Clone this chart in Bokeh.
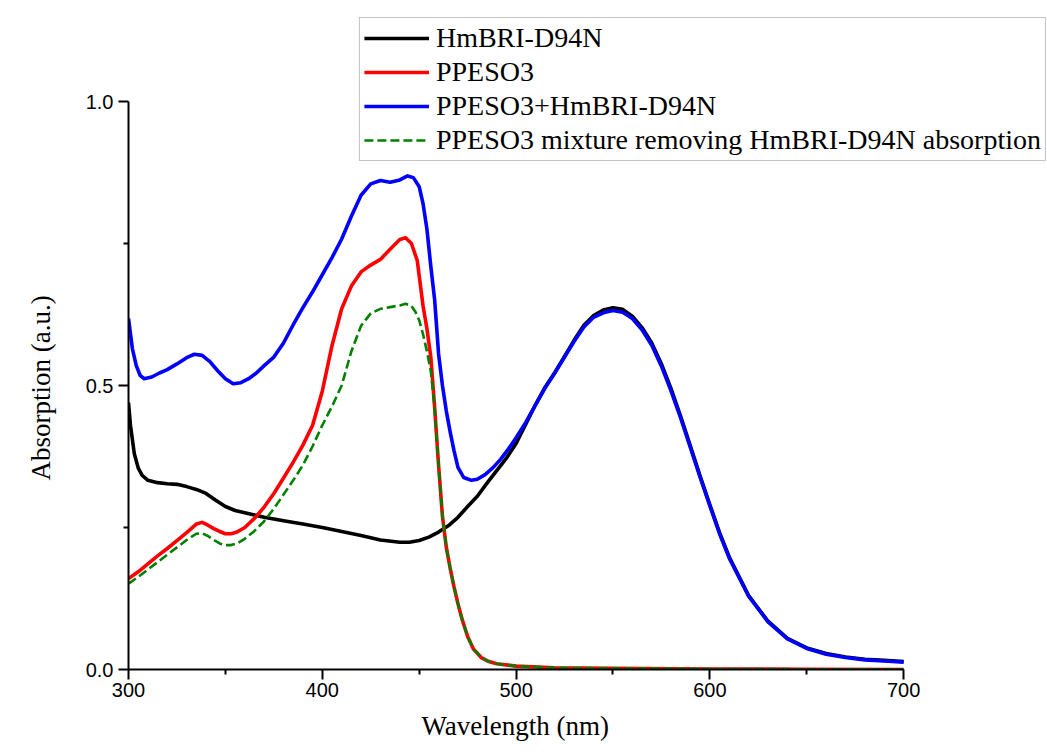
from bokeh.plotting import figure
from bokeh.models import Legend, LegendItem, FixedTicker, PrintfTickFormatter, Range1d, Title
from bokeh.embed import file_html
from bokeh.resources import INLINE

# ---- data ----
hm_x = [300, 301, 303, 305, 307, 310, 315, 320, 325, 330, 335, 340, 345, 350, 355, 360,
        370, 380, 390, 400, 410, 420, 430, 440,
        445, 450, 455, 460, 465, 470, 475, 480, 485, 490, 495, 500, 505, 510, 515, 520,
        525, 530, 535, 540, 545, 550, 555, 560, 565, 570, 575, 580, 585, 590, 595, 600,
        605, 610, 620, 630, 640, 650, 660, 670, 680, 690, 700]
hm_y = [0.47, 0.43, 0.38, 0.355, 0.342, 0.333, 0.329, 0.327, 0.326, 0.322, 0.317, 0.31,
        0.298, 0.287, 0.28, 0.276,
        0.268, 0.262, 0.256, 0.25, 0.243, 0.236, 0.228, 0.224,
        0.224, 0.227, 0.233, 0.242, 0.253, 0.268, 0.287, 0.305, 0.328, 0.35, 0.372, 0.398,
        0.432, 0.466, 0.497, 0.523, 0.551, 0.58, 0.606, 0.623, 0.633, 0.637, 0.634, 0.622,
        0.602, 0.575, 0.538, 0.494, 0.445, 0.393, 0.34, 0.29, 0.241, 0.198,
        0.13, 0.085, 0.055, 0.038, 0.028, 0.022, 0.018, 0.016, 0.014]

pp_x = [300, 305, 310, 315, 320, 325, 330, 335,
        338, 341, 344, 347, 350, 353, 356,
        360, 365, 370, 375, 380, 385, 390, 395, 400, 405, 410, 415, 420, 425, 430, 435, 440,
        443, 446, 449, 452, 454, 456, 458, 460, 462, 464, 466, 468, 470, 472, 475, 478, 482,
        486, 490,
        500, 520, 550, 600, 650, 700]
pp_y = [0.16, 0.172, 0.186, 0.2, 0.213, 0.227, 0.241, 0.256,
        0.259, 0.254, 0.248, 0.243, 0.239, 0.239, 0.242,
        0.25, 0.266, 0.286, 0.31, 0.337, 0.365, 0.395, 0.43, 0.49, 0.57, 0.635, 0.675, 0.70,
        0.712, 0.722, 0.74, 0.757,
        0.76, 0.75, 0.72, 0.64, 0.6, 0.55, 0.46, 0.36, 0.27, 0.215, 0.178, 0.145, 0.116,
        0.09, 0.058, 0.036, 0.021, 0.014, 0.01,
        0.006, 0.003, 0.002, 0.001, 0.0005, 0.0]

mix_x = [300, 302, 304, 306, 308, 312, 316, 320, 325, 330,
         334, 338, 342, 346, 350, 354, 358, 362, 366, 370,
         375, 380, 385, 390, 395, 400, 405, 410, 415, 420, 425, 430, 435, 440,
         444, 447, 450, 452, 454, 456, 458, 460, 462, 464, 466, 468, 470,
         473, 477, 480, 484, 488, 492, 496,
         500, 505, 510, 515, 520, 525, 530, 535, 540, 545, 550, 555, 560, 565, 570, 575,
         580, 585, 590, 595, 600, 605, 610,
         620, 630, 640, 650, 660, 670, 680, 690, 700]
mix_y = [0.618, 0.565, 0.535, 0.518, 0.512, 0.515, 0.522, 0.528, 0.538, 0.549,
         0.555, 0.553, 0.542, 0.526, 0.512, 0.503, 0.505, 0.512, 0.522, 0.535,
         0.55, 0.575, 0.607, 0.637, 0.665, 0.695, 0.725, 0.758, 0.798, 0.835, 0.855, 0.861,
         0.858, 0.862,
         0.869, 0.866, 0.85, 0.82, 0.775, 0.71, 0.65, 0.556, 0.5, 0.455, 0.418, 0.385, 0.356,
         0.338, 0.333, 0.335, 0.343, 0.355, 0.37, 0.388,
         0.408, 0.435, 0.466, 0.496, 0.522, 0.55, 0.578, 0.603, 0.62, 0.628, 0.632, 0.629,
         0.618, 0.598, 0.571, 0.534, 0.49, 0.442, 0.39, 0.338, 0.288, 0.239, 0.196,
         0.129, 0.084, 0.054, 0.037, 0.027, 0.021, 0.017, 0.015, 0.013]

sub_x = [300, 305, 310, 315, 320, 325, 330, 335,
         338, 341, 344, 347, 350, 353, 356,
         360, 365, 370, 375, 380, 385, 390, 395, 400, 405, 410, 415, 420, 425, 430, 435, 440,
         443, 446, 448, 450, 452, 454, 456, 458, 460, 462, 464, 466, 468, 470, 472, 475, 478,
         482, 486, 490,
         500, 520, 550, 600, 650, 700]
sub_y = [0.151, 0.163, 0.176, 0.189, 0.202, 0.215, 0.228, 0.239,
         0.24, 0.235, 0.228, 0.222, 0.219, 0.219, 0.222,
         0.23, 0.244, 0.261, 0.283, 0.308, 0.333, 0.36, 0.393, 0.43, 0.463, 0.50, 0.56,
         0.605, 0.627, 0.635, 0.638, 0.641,
         0.644, 0.64, 0.63, 0.615, 0.59, 0.56, 0.525, 0.46, 0.36, 0.27, 0.215, 0.178, 0.145,
         0.116, 0.09, 0.058, 0.036, 0.021, 0.014, 0.01,
         0.006, 0.003, 0.002, 0.001, 0.0005, 0.0]

labels = ["HmBRI-D94N", "PPESO3", "PPESO3+HmBRI-D94N",
          "PPESO3 mixture removing HmBRI-D94N absorption"]
x_title = "Wavelength (nm)"
y_title = "Absorption (a.u.)"
x_ticks = [300, 400, 500, 600, 700]
x_minor = [350, 450, 550, 650]
y_ticks = [0.0, 0.5, 1.0]
y_minor = [0.25, 0.75]

# ---- layout (pixels) ----
W, H = 1047, 756
frame_left, frame_right, frame_top, frame_bottom = 127, 1046, 17, 669
x0, x1 = 300, 700   # axis span, drawn from 127 px to 903 px
y0, y1 = 0.0, 1.0   # axis span, drawn from 669 px to 101 px
px_per_x = (903 - 127) / (x1 - x0)
px_per_y = (669 - 101) / (y1 - y0)
x_end = x0 + (frame_right - frame_left) / px_per_x
y_end = y0 + (frame_bottom - frame_top) / px_per_y

p = figure(width=W, height=H, output_backend="svg", toolbar_location=None,
           x_range=Range1d(x0, x_end), y_range=Range1d(y0, y_end),
           min_border_left=frame_left, min_border_right=W - frame_right,
           min_border_top=frame_top, min_border_bottom=H - frame_bottom)
p.outline_line_color = None
p.xgrid.visible = False
p.ygrid.visible = False

r_hm = p.line(hm_x, hm_y, line_color="black", line_width=3.6, line_join="round")
r_pp = p.line(pp_x, pp_y, line_color="#ff0000", line_width=3.6, line_join="round")
r_sub = p.line(sub_x, sub_y, line_color="#008000", line_width=2.6, line_dash="9 4",
               line_join="round")
r_mix = p.line(mix_x, mix_y, line_color="#0000ff", line_width=3.6, line_join="round")

p.xaxis.ticker = FixedTicker(ticks=x_ticks, minor_ticks=x_minor)
p.yaxis.ticker = FixedTicker(ticks=y_ticks, minor_ticks=y_minor)
p.yaxis.formatter = PrintfTickFormatter(format="%.1f")
p.xaxis.bounds = (x0, x1)
p.yaxis.bounds = (y0, y1)
p.xaxis.major_label_standoff = 3
p.yaxis.major_label_standoff = 5

for ax in (p.xaxis[0], p.yaxis[0]):
    ax.axis_line_width = 2
    ax.axis_line_color = "black"
    ax.major_tick_line_width = 2
    ax.minor_tick_line_width = 2
    ax.major_tick_line_color = "black"
    ax.minor_tick_line_color = "black"
    ax.major_tick_out = 10
    ax.major_tick_in = 0
    ax.minor_tick_out = 5
    ax.minor_tick_in = 0
    ax.major_label_text_font = "Liberation Sans"
    ax.major_label_text_font_size = "20px"
    ax.major_label_text_color = "black"

# axis titles as Titles so that they can be centred on the drawn axis span
xt = Title(text=x_title, align="left", offset=293, vertical_align="bottom", standoff=19,
           text_font="Liberation Serif", text_font_size="27px", text_font_style="normal",
           text_color="black")
p.add_layout(xt, "below")
yt = Title(text=y_title, align="left", offset=189, vertical_align="top", standoff=50,
           text_font="Liberation Serif", text_font_size="27px", text_font_style="normal",
           text_color="black")
p.add_layout(yt, "left")

legend = Legend(items=[LegendItem(label=labels[0], renderers=[r_hm]),
                       LegendItem(label=labels[1], renderers=[r_pp]),
                       LegendItem(label=labels[2], renderers=[r_mix]),
                       LegendItem(label=labels[3], renderers=[r_sub])],
                location="top_right")
legend.label_text_font = "Liberation Serif"
legend.label_text_font_size = "28px"
legend.label_text_color = "black"
legend.glyph_width = 65
legend.glyph_height = 30
legend.label_height = 30
legend.label_standoff = 7
legend.spacing = 2
legend.padding = 4
legend.margin = 0
legend.border_line_color = "#888888"
legend.border_line_width = 1.5
legend.background_fill_alpha = 1.0
p.add_layout(legend, "center")

open("out.html", "w").write(file_html(p, INLINE))
